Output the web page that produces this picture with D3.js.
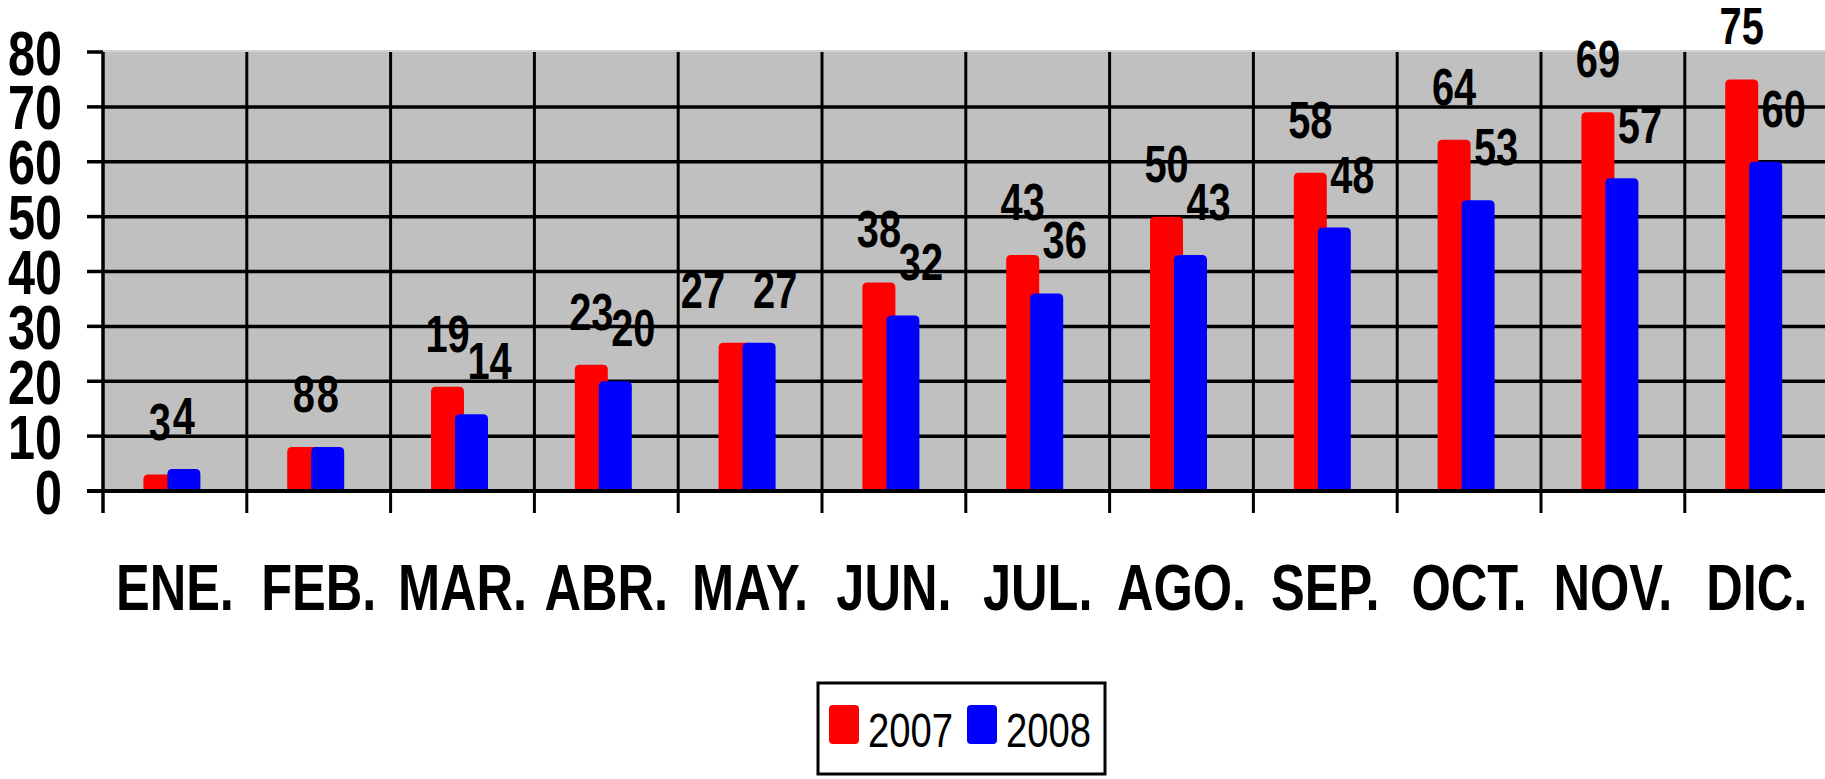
<!DOCTYPE html>
<html lang="es">
<head>
    <meta charset="UTF-8">
    <title>2007 vs 2008</title>
    <script src="https://d3js.org/d3.v7.min.js"></script>
    <style>
        body { margin: 0; background: #fff; }
        svg { display: block; }
        text { font-family: "Liberation Sans", Arial, sans-serif; fill: #000; }
        .bold { font-weight: bold; }
    </style>
</head>
<body>
    <svg id="chart"></svg>

    <script>
        // data
        const months = ["ENE.", "FEB.", "MAR.", "ABR.", "MAY.", "JUN.", "JUL.", "AGO.", "SEP.", "OCT.", "NOV.", "DIC."];
        const values2007 = [3, 8, 19, 23, 27, 38, 43, 50, 58, 64, 69, 75];
        const values2008 = [4, 8, 14, 20, 27, 32, 36, 43, 48, 53, 57, 60];
        const yTicks = [0, 10, 20, 30, 40, 50, 60, 70, 80];
        const seriesNames = ["2007", "2008"];
        const seriesColors = ["#ff0000", "#0000ff"];

        const width = 1825, height = 779;
        const plotLeft = 103, plotTop = 52, plotBottom = 491;
        const bandW = 143.8;

        const svg = d3.select("#chart")
            .attr("width", width)
            .attr("height", height);

        svg.append("rect").attr("width", width).attr("height", height).attr("fill", "#fff");

        const x = d3.scaleBand()
            .domain(months)
            .range([plotLeft, plotLeft + bandW * months.length])
            .padding(0);

        const y = d3.scaleLinear()
            .domain([0, 80])
            .range([plotBottom, plotTop]);

        // plot area
        svg.append("rect")
            .attr("x", plotLeft).attr("y", plotTop)
            .attr("width", width - plotLeft).attr("height", plotBottom - plotTop)
            .attr("fill", "#c0c0c0");
        svg.append("line")
            .attr("x1", plotLeft).attr("x2", width)
            .attr("y1", plotTop - 1).attr("y2", plotTop - 1)
            .attr("stroke", "#d2d2d2").attr("stroke-width", 2);

        // horizontal gridlines (not at the top)
        svg.append("g").selectAll("line")
            .data(yTicks.filter(d => d > 0 && d < 80))
            .enter().append("line")
            .attr("x1", plotLeft).attr("x2", width)
            .attr("y1", d => y(d)).attr("y2", d => y(d))
            .attr("stroke", "#000").attr("stroke-width", 3.5);

        // vertical gridlines at category edges, running down as ticks
        svg.append("g").selectAll("line")
            .data(months.slice(1))
            .enter().append("line")
            .attr("x1", d => x(d)).attr("x2", d => x(d))
            .attr("y1", plotTop).attr("y2", plotBottom + 22)
            .attr("stroke", "#000").attr("stroke-width", 3);

        // rounded-top bar path
        function barPath(bx, by, w, h, r) {
            r = Math.min(r, h / 2, w / 2);
            return `M${bx},${by + h} L${bx},${by + r} Q${bx},${by} ${bx + r},${by} ` +
                   `L${bx + w - r},${by} Q${bx + w},${by} ${bx + w},${by + r} L${bx + w},${by + h} Z`;
        }

        const barW = 33, shift = 24;
        const groupW = shift + barW;
        const redX = d => x(d) + (bandW - groupW) / 2 - 3;

        const series = [values2007, values2008];
        series.forEach((vals, s) => {
            svg.append("g").selectAll("path")
                .data(months)
                .enter().append("path")
                .attr("d", (m, i) => barPath(redX(m) + s * shift, y(vals[i]), barW, plotBottom - y(vals[i]), 5))
                .attr("fill", seriesColors[s]);
        });

        // y axis + ticks
        svg.append("line")
            .attr("x1", plotLeft).attr("x2", plotLeft)
            .attr("y1", plotTop).attr("y2", plotBottom + 22)
            .attr("stroke", "#000").attr("stroke-width", 3.5);
        svg.append("line")
            .attr("x1", plotLeft - 16).attr("x2", width)
            .attr("y1", plotBottom).attr("y2", plotBottom)
            .attr("stroke", "#000").attr("stroke-width", 4);
        svg.append("g").selectAll("line")
            .data(yTicks)
            .enter().append("line")
            .attr("x1", plotLeft - 16).attr("x2", plotLeft)
            .attr("y1", d => y(d)).attr("y2", d => y(d))
            .attr("stroke", "#000").attr("stroke-width", 3.5);

        svg.append("g").selectAll("text")
            .data(yTicks)
            .enter().append("text")
            .attr("class", "bold")
            .attr("transform", d => `translate(62,${y(d) + 22.5}) scale(0.77,1)`)
            .attr("text-anchor", "end")
            .style("font-size", "63px")
            .text(d => d);

        // month labels
        svg.append("g").selectAll("text")
            .data(months)
            .enter().append("text")
            .attr("class", "bold")
            .attr("transform", d => `translate(${x(d) + bandW / 2},610) scale(0.79,1)`)
            .attr("text-anchor", "middle")
            .style("font-size", "64px")
            .text(d => d);

        // value labels: centred over their bars; 2008 nudged right when it sits
        // clear of the 2007 label, pushed apart when the two are level and collide
        const labelSX = 0.78, labelSize = 51, pad = 28, dx08 = 18, capH = 36;
        const labelLayer = svg.append("g");
        months.forEach((m, i) => {
            const cx07 = redX(m) + barW / 2;
            const cx08 = redX(m) + shift + barW / 2;
            const by07 = y(values2007[i]) - 35;
            const by08 = y(values2008[i]) - 35;

            const t07 = labelLayer.append("text").attr("class", "bold")
                .style("font-size", labelSize + "px").attr("text-anchor", "middle")
                .text(values2007[i]);
            const t08 = labelLayer.append("text").attr("class", "bold")
                .style("font-size", labelSize + "px").attr("text-anchor", "middle")
                .text(values2008[i]);
            const w07 = t07.node().getComputedTextLength() * labelSX;
            const w08 = t08.node().getComputedTextLength() * labelSX;

            let x07 = cx07, x08 = cx08;
            if (Math.abs(by07 - by08) >= capH / 3) {
                x08 += dx08;
            } else if (x08 - x07 < (w07 + w08) / 2) {
                const deficit = (w07 + w08) / 2 + pad - (x08 - x07);
                x07 -= deficit * 2 / 3;
                x08 += deficit / 3;
            }

            t07.attr("transform", `translate(${x07},${by07}) scale(${labelSX},1)`);
            t08.attr("transform", `translate(${x08},${by08}) scale(${labelSX},1)`);
        });

        // legend
        const legend = svg.append("g");
        legend.append("rect")
            .attr("x", 818).attr("y", 683)
            .attr("width", 287).attr("height", 91)
            .attr("fill", "#fff").attr("stroke", "#000").attr("stroke-width", 3);
        seriesNames.forEach((name, s) => {
            const lx = 829 + s * 138;
            legend.append("rect")
                .attr("x", lx).attr("y", 705)
                .attr("width", 30).attr("height", 39).attr("rx", 4)
                .attr("fill", seriesColors[s]);
            legend.append("text")
                .attr("transform", `translate(${lx + 39},747) scale(0.78,1)`)
                .style("font-size", "49px")
                .text(name);
        });
    </script>
</body>
</html>
